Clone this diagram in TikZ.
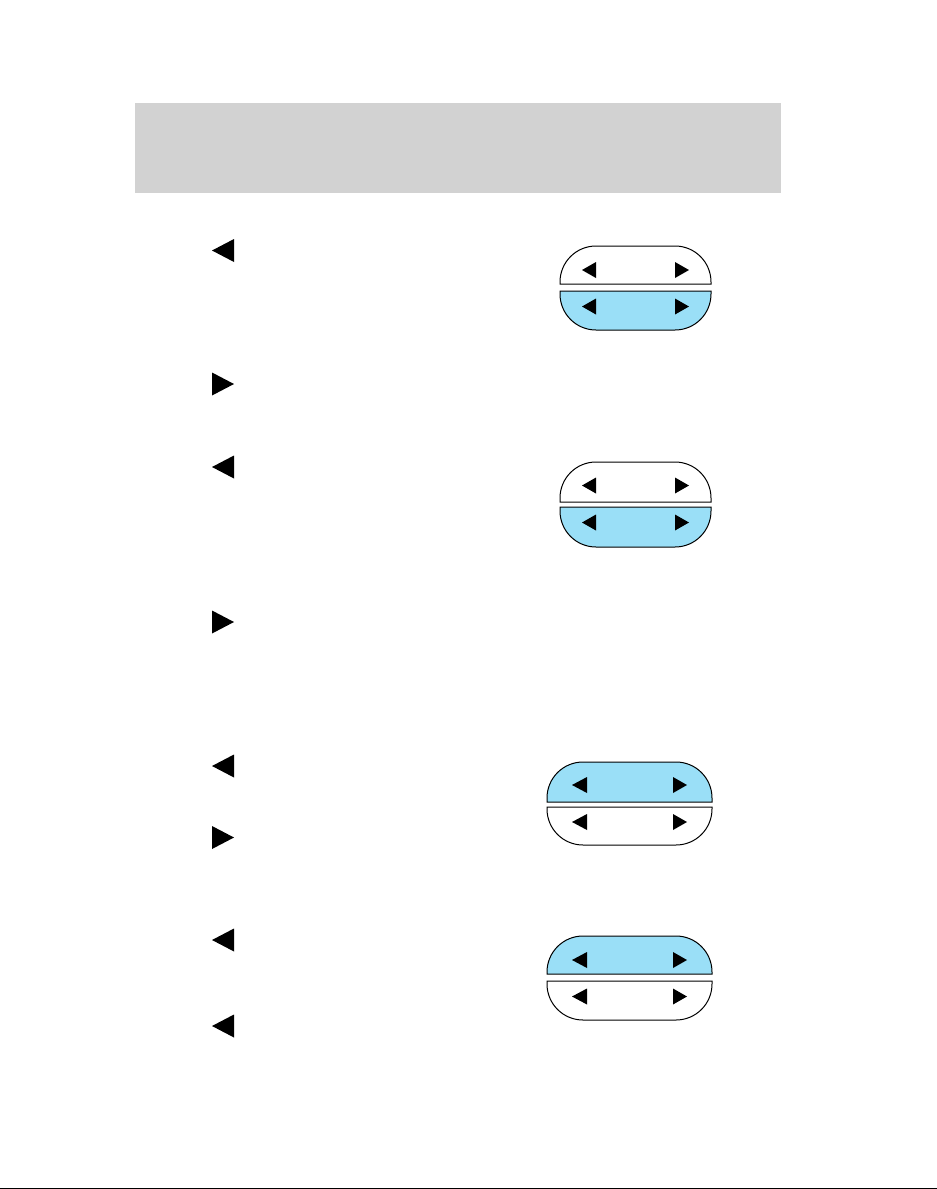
\documentclass[tikz,border=0pt]{standalone}
\definecolor{hdrgray}{HTML}{D2D2D2}
\definecolor{btnblue}{HTML}{9ADFF7}
\tikzset{
  halfbtn/.style={draw=black, line width=1pt},
  bigtri/.style={fill=black, draw=none},
  smalltri/.style={fill=black, draw=none},
}
% upper half: #1 fill, x1, x2, ytop, ybottom
\newcommand\upperhalf[5]{%
  \draw[halfbtn, fill=#1] (#2,#5) {[rounded corners=36] -- (#2,#4) -- (#3,#4)} -- (#3,#5) -- cycle;}
\newcommand\lowerhalf[5]{%
  \draw[halfbtn, fill=#1] (#2,#4) {[rounded corners=36] -- (#2,#5) -- (#3,#5)} -- (#3,#4) -- cycle;}
% left-pointing triangle: tip x, base x, center y, half height
\newcommand\ltri[4]{\fill (#1,#3) -- (#2,#3-#4) -- (#2,#3+#4) -- cycle;}
\newcommand\rtri[4]{\fill (#1,#3) -- (#2,#3-#4) -- (#2,#3+#4) -- cycle;}
\begin{document}
\begin{tikzpicture}[x=1pt,y=-1pt]
\useasboundingbox (0,0) rectangle (937,1189);
\fill[white] (0,0) rectangle (937,1189);
% header band
\fill[hdrgray] (135,103) rectangle (781,193);
% left margin triangles
\ltri{212}{234}{250.5}{11.5}
\rtri{234}{212}{384}{11.5}
\ltri{212}{234}{467}{11.5}
\rtri{234}{212}{622}{11.5}
\ltri{212}{234}{766}{11.5}
\rtri{234}{212}{837.5}{11.5}
\ltri{212}{234}{940}{11.5}
\ltri{212}{234}{1026}{11.5}
% button 1
\upperhalf{white}{560}{711}{246}{284}
\lowerhalf{btnblue}{560}{711}{291}{330}
\ltri{582}{596}{270}{8}
\rtri{689}{675}{270}{8}
\ltri{582}{596}{306.5}{8}
\rtri{689}{675}{306.5}{8}
% button 2
\upperhalf{white}{560}{711}{462}{502}
\lowerhalf{btnblue}{560}{711}{507}{547}
\ltri{582}{596}{485.5}{8}
\rtri{689}{675}{485.5}{8}
\ltri{582}{596}{522.5}{8}
\rtri{689}{675}{522.5}{8}
% button 3
\upperhalf{btnblue}{547}{712}{762}{802}
\lowerhalf{white}{547}{712}{807}{845}
\ltri{572}{587}{785}{8}
\rtri{687}{673}{785}{8}
\ltri{572}{587}{822}{8}
\rtri{687}{673}{822}{8}
% button 4
\upperhalf{btnblue}{547}{712}{936}{974}
\lowerhalf{white}{547}{712}{981}{1020}
\ltri{572}{587}{960}{8}
\rtri{687}{673}{960}{8}
\ltri{572}{587}{996.5}{8}
\rtri{687}{673}{996.5}{8}
% bottom edge line
\draw[line width=1.2pt, black] (0,1188.4) -- (937,1188.4);
\end{tikzpicture}
\end{document}
